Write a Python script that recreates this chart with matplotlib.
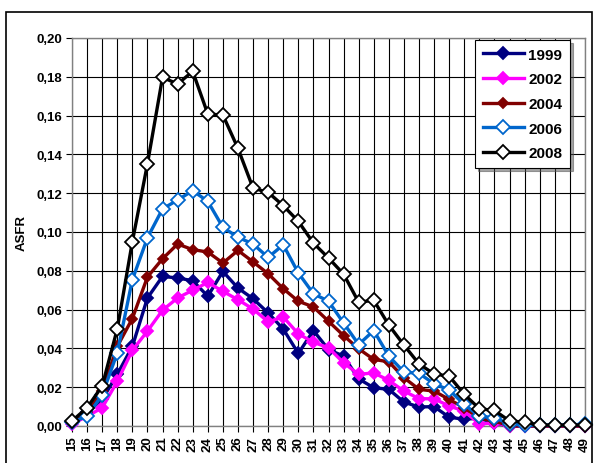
import numpy as np
import matplotlib.pyplot as plt
from matplotlib.patches import Rectangle

plt.rcParams['font.family'] = ['Liberation Sans', 'DejaVu Sans']

# ages 15..49
ages = list(range(15, 50))

asfr_1999 = [0.002, 0.007, 0.0137, 0.0266, 0.041, 0.066, 0.0771, 0.0763, 0.0749, 0.0669,
             0.0797, 0.0711, 0.0656, 0.0583, 0.050, 0.0374, 0.0492, 0.0394, 0.036, 0.0243,
             0.0197, 0.0189, 0.0123, 0.0098, 0.010, 0.0045, 0.0035, 0.004, 0.0015, 0.0,
             0.0, 0.0, 0.0, 0.0, 0.0]
asfr_2002 = [0.001, 0.005, 0.0094, 0.023, 0.039, 0.0489, 0.0597, 0.066, 0.070, 0.074,
             0.0694, 0.0651, 0.0603, 0.0537, 0.0562, 0.0475, 0.0432, 0.0403, 0.0326, 0.0266,
             0.0274, 0.0235, 0.018, 0.0141, 0.014, 0.0103, 0.0077, 0.001, 0.0017, 0.0,
             0.0, 0.0, 0.0, 0.0, 0.0]
asfr_2004 = [0.002, 0.007, 0.018, 0.041, 0.0554, 0.0768, 0.0862, 0.0938, 0.0909, 0.0897,
             0.084, 0.0905, 0.0846, 0.0785, 0.0708, 0.0643, 0.0614, 0.054, 0.0466, 0.0398,
             0.0343, 0.0331, 0.0249, 0.0189, 0.018, 0.0137, 0.0094, 0.004, 0.0026, 0.0,
             0.0, 0.0, 0.0, 0.0, 0.0]
asfr_2006 = [0.002, 0.005, 0.016, 0.0377, 0.0754, 0.097, 0.1119, 0.1165, 0.1213, 0.1158,
             0.1024, 0.0973, 0.0938, 0.0869, 0.0934, 0.0789, 0.0682, 0.0643, 0.0531, 0.042,
             0.0492, 0.036, 0.0278, 0.0271, 0.0218, 0.0185, 0.0111, 0.005, 0.0043, 0.001,
             0.0005, 0.0005, 0.0005, 0.0005, 0.001]
asfr_2008 = [0.0026, 0.0094, 0.0206, 0.050, 0.095, 0.1351, 0.1797, 0.1763, 0.1828, 0.1608,
             0.1603, 0.1431, 0.1226, 0.1204, 0.1136, 0.1055, 0.0943, 0.0866, 0.0783, 0.0638,
             0.0648, 0.052, 0.0417, 0.032, 0.0268, 0.0257, 0.0163, 0.0089, 0.008, 0.0026,
             0.002, 0.0005, 0.0005, 0.0005, 0.0005]

series = [
    ('1999', asfr_1999, '#000080', '#000080', 6.5),
    ('2002', asfr_2002, '#FF00FF', '#FF00FF', 6.5),
    ('2004', asfr_2004, '#800000', '#800000', 5.5),
    ('2006', asfr_2006, '#0066CC', 'white', 7),
    ('2008', asfr_2008, '#000000', 'white', 7),
]

yticks = [0.0, 0.02, 0.04, 0.06, 0.08, 0.10, 0.12, 0.14, 0.16, 0.18, 0.20]
ytick_labels = ['0,00', '0,02', '0,04', '0,06', '0,08', '0,10', '0,12', '0,14', '0,16', '0,18', '0,20']

fig = plt.figure(figsize=(5.98, 4.64), dpi=100)
ax = fig.add_axes([72 / 598, 37 / 464, 513 / 598, 388 / 464])

for name, vals, col, face, ms in series:
    ax.plot(ages, vals, color=col, lw=2.4, marker='D', markersize=ms,
            markerfacecolor=face, markeredgecolor=col, markeredgewidth=1.3,
            label=name, clip_on=False, zorder=3)

ax.set_xlim(15, 49)
ax.set_ylim(0, 0.20)
ax.set_xticks(ages)
ax.set_xticklabels([str(a) for a in ages], rotation=90, fontsize=9.5, fontweight='bold')
ax.set_yticks(yticks)
ax.set_yticklabels(ytick_labels, fontsize=9.5, fontweight='bold')
ax.tick_params(axis='both', direction='out', length=4, width=0.8, color='black', pad=3)
ax.grid(True, color='black', lw=0.8)
ax.set_axisbelow(True)
for s in ax.spines.values():
    s.set_color('#808080')
    s.set_linewidth(1.0)
ax.set_ylabel('ASFR', fontsize=9.5, fontweight='bold', labelpad=6)

leg = ax.legend(loc='upper left', bbox_to_anchor=(475 / 598, 1 - 41 / 464),
                bbox_transform=fig.transFigure, prop={'size': 11, 'weight': 'bold'},
                handlelength=2.7, labelspacing=0.7, handletextpad=0.3,
                borderpad=0.5, fancybox=False, shadow=True, framealpha=1,
                borderaxespad=0)
leg.get_frame().set_edgecolor('black')
leg.get_frame().set_linewidth(0.8)

# chart border
fig.patches.append(Rectangle((6 / 598, -0.02), 586 / 598, 1 - 13 / 464 + 0.02,
                             transform=fig.transFigure, fill=False,
                             edgecolor='black', lw=1.2))

fig.savefig('out.png', dpi=100)
